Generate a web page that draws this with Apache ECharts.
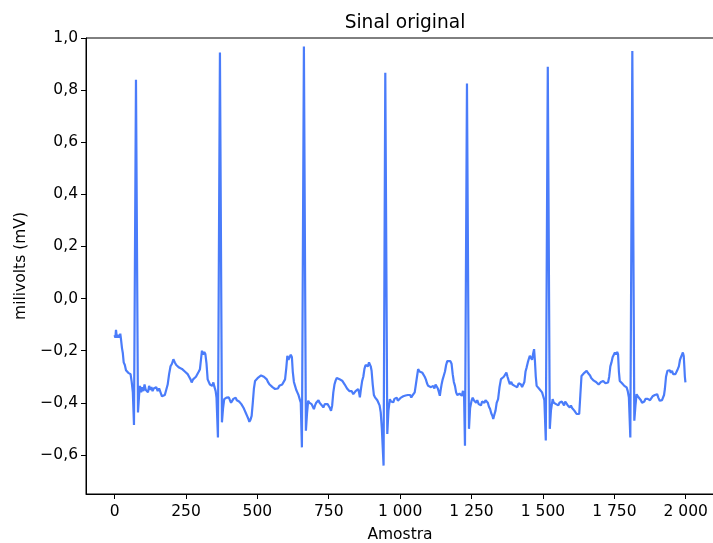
<!DOCTYPE html>
<html>
<head>
<meta charset="utf-8">
<script src="https://cdn.jsdelivr.net/npm/echarts@6/dist/echarts.min.js"></script>
<style>
  html, body { margin: 0; padding: 0; background: #fff; }
  #chart { width: 713px; height: 543px; }
</style>
</head>
<body>
<div id="chart"></div>
<script>
// amostras (índice da amostra)
var amostra = [
  0, 3, 5, 8, 12, 16, 20, 23, 26, 29, 32, 36, 40, 44, 48, 52, 56, 60, 64, 68,
  75, 82, 86, 89, 93, 97, 101, 105, 109, 113, 117, 121, 125, 129, 133, 137, 141, 146, 151, 156,
  161, 166, 171, 176, 181, 186, 191, 196, 201, 206, 211, 216, 221, 226, 231, 236, 241, 246, 251, 256,
  261, 266, 270, 275, 280, 285, 290, 295, 299, 303, 306, 310, 314, 318, 322, 326, 330, 334, 338, 342,
  346, 350, 354, 357, 362, 369, 376, 380, 384, 388, 392, 396, 400, 404, 408, 412, 416, 420, 424, 428,
  432, 436, 440, 444, 448, 452, 456, 460, 464, 468, 472, 476, 480, 484, 488, 492, 497, 503, 508, 513,
  518, 523, 528, 533, 538, 543, 548, 553, 558, 562, 567, 572, 577, 582, 587, 592, 597, 601, 605, 609,
  613, 617, 621, 624, 628, 632, 636, 640, 644, 648, 652, 656, 663, 670, 674, 678, 682, 686, 690, 694,
  698, 702, 706, 710, 714, 718, 722, 726, 731, 736, 741, 746, 750, 754, 758, 762, 766, 770, 774, 778,
  783, 788, 793, 797, 801, 806, 810, 814, 818, 822, 826, 830, 836, 840, 844, 848, 853, 856, 859, 863,
  867, 871, 875, 879, 883, 887, 891, 894, 897, 900, 904, 908, 912, 916, 920, 924, 928, 932, 936, 942,
  948, 955, 959, 964, 968, 972, 976, 980, 984, 988, 992, 996, 999, 1003, 1007, 1011, 1015, 1019, 1023, 1027,
  1031, 1035, 1039, 1043, 1047, 1051, 1055, 1059, 1063, 1068, 1073, 1078, 1082, 1086, 1090, 1094, 1098, 1103, 1108, 1112,
  1116, 1120, 1124, 1128, 1132, 1136, 1139, 1142, 1145, 1149, 1153, 1157, 1161, 1165, 1168, 1172, 1176, 1180, 1184, 1188,
  1192, 1196, 1200, 1204, 1208, 1212, 1216, 1220, 1224, 1227, 1234, 1241, 1245, 1250, 1254, 1258, 1262, 1266, 1270, 1275,
  1279, 1283, 1287, 1291, 1295, 1299, 1303, 1307, 1311, 1315, 1319, 1323, 1326, 1330, 1334, 1338, 1343, 1348, 1353, 1358,
  1363, 1367, 1372, 1376, 1380, 1384, 1389, 1393, 1397, 1401, 1406, 1410, 1415, 1419, 1423, 1427, 1431, 1435, 1439, 1443,
  1447, 1451, 1454, 1458, 1462, 1466, 1469, 1472, 1475, 1478, 1482, 1486, 1489, 1493, 1497, 1501, 1505, 1510, 1517, 1524,
  1528, 1534, 1538, 1542, 1546, 1550, 1554, 1558, 1562, 1566, 1570, 1574, 1578, 1583, 1587, 1591, 1594, 1598, 1602, 1606,
  1610, 1614, 1618, 1622, 1627, 1631, 1635, 1640, 1645, 1649, 1653, 1657, 1661, 1665, 1669, 1673, 1678, 1682, 1686, 1690,
  1695, 1699, 1703, 1707, 1711, 1715, 1719, 1724, 1728, 1732, 1736, 1740, 1744, 1748, 1752, 1756, 1760, 1763, 1766, 1769,
  1773, 1777, 1781, 1785, 1789, 1793, 1797, 1801, 1806, 1813, 1820, 1824, 1828, 1832, 1836, 1839, 1843, 1847, 1851, 1855,
  1859, 1863, 1867, 1871, 1875, 1880, 1884, 1888, 1892, 1896, 1900, 1904, 1909, 1913, 1917, 1921, 1924, 1927, 1931, 1936,
  1940, 1944, 1948, 1952, 1956, 1960, 1964, 1968, 1972, 1976, 1980, 1983, 1987, 1990, 1993, 1995, 1997, 1999
];

// sinal em milivolts
var milivolts = [
  -0.14, -0.15, -0.12, -0.15, -0.14, -0.15, -0.135, -0.16, -0.19, -0.21, -0.245, -0.255, -0.275, -0.27, -0.285, -0.28, -0.29, -0.32, -0.36, -0.485,
  0.84, -0.437, -0.37, -0.335, -0.36, -0.34, -0.355, -0.33, -0.35, -0.345, -0.36, -0.335, -0.35, -0.34, -0.355, -0.345, -0.35, -0.34, -0.355, -0.345,
  -0.35, -0.375, -0.38, -0.37, -0.365, -0.33, -0.29, -0.26, -0.25, -0.233, -0.245, -0.255, -0.25, -0.265, -0.258, -0.27, -0.265, -0.28, -0.284, -0.29,
  -0.30, -0.31, -0.322, -0.31, -0.315, -0.30, -0.295, -0.28, -0.271, -0.23, -0.2, -0.215, -0.205, -0.213, -0.25, -0.31, -0.32, -0.33, -0.325, -0.335,
  -0.322, -0.34, -0.355, -0.38, -0.533, 0.944, -0.475, -0.42, -0.386, -0.39, -0.38, -0.385, -0.379, -0.39, -0.40, -0.395, -0.385, -0.39, -0.38, -0.39,
  -0.386, -0.395, -0.40, -0.405, -0.411, -0.42, -0.43, -0.44, -0.45, -0.46, -0.473, -0.465, -0.45, -0.40, -0.345, -0.316, -0.31, -0.303, -0.31, -0.295,
  -0.29, -0.30, -0.305, -0.31, -0.322, -0.33, -0.335, -0.34, -0.345, -0.347, -0.34, -0.345, -0.335, -0.335, -0.33, -0.325, -0.31, -0.27, -0.22, -0.235,
  -0.23, -0.215, -0.225, -0.28, -0.32, -0.335, -0.35, -0.36, -0.37, -0.385, -0.40, -0.571, 0.967, -0.507, -0.44, -0.392, -0.40, -0.395, -0.405, -0.41,
  -0.424, -0.41, -0.40, -0.395, -0.39, -0.40, -0.405, -0.41, -0.418, -0.405, -0.41, -0.405, -0.41, -0.42, -0.431, -0.41, -0.36, -0.33, -0.315, -0.305,
  -0.303, -0.31, -0.305, -0.315, -0.316, -0.33, -0.335, -0.345, -0.347, -0.355, -0.36, -0.355, -0.367, -0.36, -0.355, -0.35, -0.347, -0.36, -0.379, -0.345,
  -0.316, -0.30, -0.27, -0.255, -0.252, -0.26, -0.245, -0.245, -0.26, -0.277, -0.33, -0.37, -0.379, -0.385, -0.39, -0.392, -0.41, -0.437, -0.50, -0.641,
  0.867, -0.52, -0.43, -0.386, -0.395, -0.39, -0.398, -0.385, -0.39, -0.38, -0.392, -0.385, -0.392, -0.38, -0.385, -0.375, -0.38, -0.372, -0.379, -0.37,
  -0.375, -0.37, -0.38, -0.372, -0.379, -0.36, -0.33, -0.30, -0.271, -0.28, -0.275, -0.285, -0.29, -0.30, -0.31, -0.325, -0.335, -0.33, -0.34, -0.335,
  -0.335, -0.345, -0.33, -0.328, -0.345, -0.36, -0.373, -0.35, -0.33, -0.31, -0.295, -0.28, -0.255, -0.24, -0.233, -0.245, -0.24, -0.25, -0.29, -0.32,
  -0.335, -0.36, -0.37, -0.373, -0.365, -0.37, -0.373, -0.354, -0.38, -0.565, 0.825, -0.5, -0.42, -0.392, -0.38, -0.39, -0.386, -0.40, -0.39, -0.405,
  -0.40, -0.41, -0.395, -0.398, -0.40, -0.39, -0.392, -0.40, -0.415, -0.424, -0.44, -0.45, -0.462, -0.445, -0.43, -0.40, -0.386, -0.34, -0.309, -0.31,
  -0.30, -0.303, -0.284, -0.30, -0.315, -0.328, -0.32, -0.33, -0.325, -0.335, -0.33, -0.34, -0.325, -0.322, -0.33, -0.34, -0.341, -0.32, -0.28, -0.264,
  -0.245, -0.23, -0.22, -0.225, -0.235, -0.21, -0.194, -0.24, -0.30, -0.335, -0.335, -0.345, -0.341, -0.35, -0.36, -0.375, -0.39, -0.545, 0.89, -0.5,
  -0.43, -0.386, -0.40, -0.395, -0.405, -0.40, -0.41, -0.40, -0.405, -0.395, -0.40, -0.41, -0.395, -0.398, -0.41, -0.405, -0.418, -0.41, -0.42, -0.418,
  -0.43, -0.435, -0.443, -0.445, -0.443, -0.37, -0.297, -0.29, -0.285, -0.28, -0.277, -0.285, -0.29, -0.295, -0.305, -0.31, -0.315, -0.316, -0.32, -0.325,
  -0.33, -0.328, -0.32, -0.325, -0.316, -0.32, -0.325, -0.32, -0.322, -0.30, -0.26, -0.245, -0.225, -0.22, -0.207, -0.215, -0.205, -0.213, -0.28, -0.316,
  -0.32, -0.325, -0.328, -0.335, -0.34, -0.341, -0.355, -0.38, -0.533, 0.95, -0.469, -0.41, -0.367, -0.375, -0.38, -0.379, -0.39, -0.40, -0.405, -0.395,
  -0.385, -0.379, -0.385, -0.38, -0.39, -0.386, -0.375, -0.38, -0.37, -0.375, -0.367, -0.38, -0.392, -0.385, -0.39, -0.386, -0.37, -0.347, -0.30, -0.277,
  -0.28, -0.275, -0.285, -0.277, -0.29, -0.297, -0.29, -0.285, -0.271, -0.26, -0.235, -0.226, -0.215, -0.207, -0.22, -0.258, -0.30, -0.322
];

var xTicks = [0, 250, 500, 750, 1000, 1250, 1500, 1750, 2000];
var yTicks = [-0.6, -0.4, -0.2, 0.0, 0.2, 0.4, 0.6, 0.8, 1.0];

var pontos = [];
for (var i = 0; i < amostra.length; i++) {
  pontos.push([amostra[i], milivolts[i]]);
}

function fmtY(v) {
  var s = Math.abs(v).toFixed(1).replace('.', ',');
  return (v < -1e-9 ? '\u2212' : '') + s;
}
function fmtX(v) {
  return String(v).replace(/\B(?=(\d{3})+(?!\d))/g, ' ');
}

var myChart = echarts.init(document.getElementById('chart'), null, { renderer: 'canvas' });
var fonte = 'DejaVu Sans';

var option = {
  animation: false,
  backgroundColor: '#fff',
  title: {
    text: 'Sinal original',
    left: 400,
    top: 9,
    textAlign: 'center',
    textStyle: { fontFamily: fonte, fontSize: 18.6, fontWeight: 'normal', color: '#000' }
  },
  grid: {
    left: 86,
    top: 38,
    width: 628,
    height: 456,
    show: true,
    borderColor: '#000',
    borderWidth: 1,
    containLabel: false,
    outerBoundsMode: 'none'
  },
  xAxis: {
    type: 'value',
    min: -100,
    max: 2099,
    name: 'Amostra',
    nameLocation: 'middle',
    nameGap: 33,
    nameTextStyle: { fontFamily: fonte, fontSize: 15.5, color: '#000' },
    axisLine: { show: true, onZero: false, lineStyle: { color: '#000', width: 1 } },
    axisTick: { show: true, length: 5, lineStyle: { color: '#000' }, customValues: xTicks },
    axisLabel: {
      customValues: xTicks,
      margin: 10,
      fontFamily: fonte, fontSize: 15.5, color: '#000',
      formatter: fmtX
    },
    splitLine: { show: false }
  },
  yAxis: {
    type: 'value',
    min: -0.75,
    max: 1.0,
    name: 'milivolts (mV)',
    nameLocation: 'middle',
    nameGap: 56,
    nameRotate: 90,
    nameTextStyle: { fontFamily: fonte, fontSize: 15.5, color: '#000' },
    axisLine: { show: true, onZero: false, lineStyle: { color: '#000', width: 1 } },
    axisTick: { show: true, length: 5, lineStyle: { color: '#000' }, customValues: yTicks },
    axisLabel: {
      customValues: yTicks,
      margin: 8,
      fontFamily: fonte, fontSize: 15.5, color: '#000',
      formatter: fmtY
    },
    splitLine: { show: false }
  },
  series: [{
    name: 'sinal',
    type: 'line',
    data: pontos,
    showSymbol: false,
    clip: true,
    lineStyle: { color: '#4a7cfa', width: 2.2 }
  }]
};

myChart.setOption(option);
</script>
</body>
</html>
